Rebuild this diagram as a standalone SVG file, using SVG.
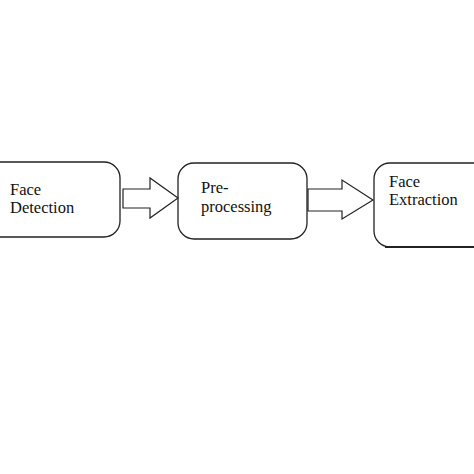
<svg xmlns="http://www.w3.org/2000/svg" width="474" height="474" viewBox="0 0 474 474">
<style>
.box{fill:#fff;stroke:#222;stroke-width:1.3}
.arr{fill:#fff;stroke:#222;stroke-width:1.2;stroke-linejoin:miter}
text{font-family:"Liberation Serif","Times New Roman",serif;font-size:16.5px;fill:#111}
</style>
<rect width="474" height="474" fill="#fff"/>
<g id="node-face-detection">
<rect class="box" x="-20" y="162" width="140" height="75" rx="16"/>
<text x="10" y="195">Face</text>
<text x="10" y="213">Detection</text>
</g>
<g id="node-preprocessing">
<rect class="box" x="178" y="163" width="129" height="76" rx="16"/>
<text x="201" y="193">Pre-</text>
<text x="201" y="212">processing</text>
</g>
<g id="node-face-extraction">
<rect class="box" x="374" y="163" width="130" height="84" rx="16"/>
<line x1="385" y1="247" x2="474" y2="247" stroke="#222" stroke-width="2"/>
<text x="389" y="187">Face</text>
<text x="389" y="205">Extraction</text>
</g>
<g id="connectors">
<polygon class="arr" points="123,189 150,189 150,178 178,198 150,218 150,208 123,208"/>
<polygon class="arr" points="308,189 342,189 342,180 373,200 342,219 342,211 308,211"/>
</g>
</svg>
